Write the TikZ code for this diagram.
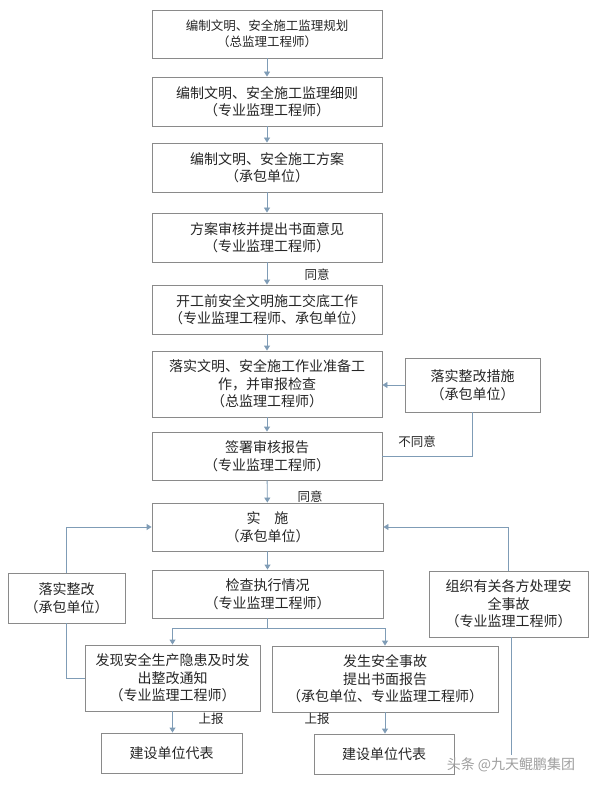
\documentclass[tikz,border=0pt]{standalone}
\usepackage{fontspec}
\setmainfont{Noto Sans CJK SC}
\usetikzlibrary{arrows.meta}
\definecolor{edgec}{HTML}{8A8A8A}
\definecolor{connc}{HTML}{7F9CB6}
\tikzset{
 box/.style={draw=edgec, line width=0.9pt, align=center, font=\fontsize{14}{17.5}\selectfont, text=black!85, inner sep=0pt},
 conn/.style={draw=connc, line width=0.9pt},
 arr/.style={conn, -{Triangle[length=5pt,width=6pt]}},
 lbl/.style={font=\fontsize{12.5}{14}\selectfont, text=black!85, inner sep=0pt},
}
\begin{document}
\begin{tikzpicture}[x=1pt,y=-1pt]
\useasboundingbox[fill=white] (0,0) rectangle (593,786);
% main column
\node[box, minimum width=230pt, minimum height=48pt, font=\fontsize{12.5}{16.5}\selectfont] (b1) at (267,34) {编制文明、安全施工监理规划\\（总监理工程师）};
\node[box, minimum width=230pt, minimum height=49pt] (b2) at (267,101.5) {编制文明、安全施工监理细则\\（专业监理工程师）};
\node[box, minimum width=230pt, minimum height=49pt] (b3) at (267,167.5) {编制文明、安全施工方案\\（承包单位）};
\node[box, minimum width=230pt, minimum height=49pt] (b4) at (267,237.5) {方案审核并提出书面意见\\（专业监理工程师）};
\node[box, minimum width=230pt, minimum height=49pt] (b5) at (267,309.5) {开工前安全文明施工交底工作\\（专业监理工程师、承包单位）};
\node[box, minimum width=230pt, minimum height=66pt] (b6) at (267,384) {落实文明、安全施工作业准备工\\作，并审报检查\\（总监理工程师）};
\node[box, minimum width=135pt, minimum height=54pt] (r1) at (472.5,385) {落实整改措施\\（承包单位）};
\node[box, minimum width=230pt, minimum height=48pt] (b7) at (267,456) {签署审核报告\\（专业监理工程师）};
\node[box, minimum width=231pt, minimum height=48pt] (b8) at (267.5,527) {实\quad 施\\（承包单位）};
\node[box, minimum width=231pt, minimum height=48pt] (b9) at (267.5,594) {检查执行情况\\（专业监理工程师）};
\node[box, minimum width=117pt, minimum height=50pt] (lf) at (66.5,598) {落实整改\\（承包单位）};
\node[box, minimum width=159pt, minimum height=66pt] (rt) at (508.5,604) {组织有关各方处理安\\全事故\\（专业监理工程师）};
\node[box, minimum width=175pt, minimum height=66pt] (b10) at (172.5,678) {发现安全生产隐患及时发\\出整改通知\\（专业监理工程师）};
\node[box, minimum width=226pt, minimum height=66pt] (b11) at (385,679) {发生安全事故\\提出书面报告\\（承包单位、专业监理工程师）};
\node[box, minimum width=141pt, minimum height=40pt] (b12) at (171.5,753) {建设单位代表};
\node[box, minimum width=140pt, minimum height=40pt] (b13) at (384,754) {建设单位代表};
% labels
\node[lbl] (l1) at (317,275) {同意};
\node[lbl] (l2) at (417,442) {不同意};
\node[lbl] (l3) at (310,497) {同意};
\node[lbl] (l4) at (211,719) {上报};
\node[lbl] (l5) at (317,719) {上报};
% connectors
\draw[arr] (b1) -- (b2);
\draw[arr] (b2) -- (b3);
\draw[arr] (b3) -- (b4);
\draw[arr] (b4) -- (b5);
\draw[arr] (b5) -- (b6);
\draw[arr] (b6) -- (b7);
\draw[arr] (b7) -- (b8);
\draw[arr] (b8) -- (b9);
\draw[arr] (r1.west) -- (r1.west -| b6.east);
\draw[conn] (b7.east) -| (r1.south);
\coordinate (sp) at (267.5,628);
\draw[conn] (b9.south) -- (sp);
\draw[arr] (sp) -| (b10.north);
\draw[arr] (sp) -| (b11.north);
\draw[arr] (lf.north) |- (b8.west);
\draw[conn] (b10.west) -| (lf.south);
\draw[arr] (rt.north) |- (b8.east);
\coordinate (rend) at (511,755);
\draw[conn] (rend |- rt.south) -- (rend);
\draw[arr] (b10.south) -- (b10.south |- b12.north);
\draw[arr] (b11.south) -- (b11.south |- b13.north);
% watermark
\node[font=\fontsize{14}{14}\selectfont, text=gray!75] (wm) at (511,765) {头条 @九天鲲鹏集团};
\end{tikzpicture}
\end{document}
